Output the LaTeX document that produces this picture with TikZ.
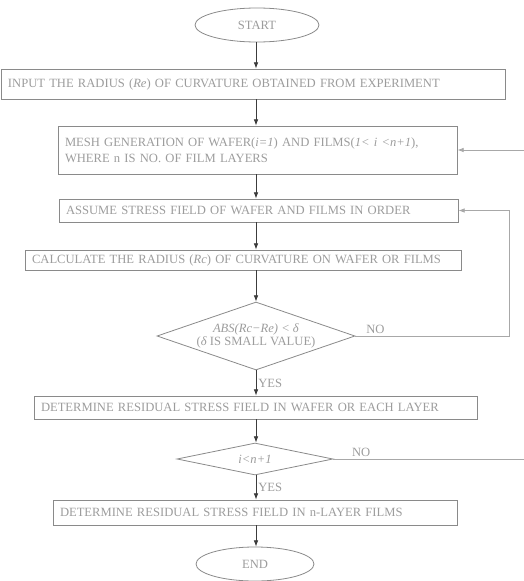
\documentclass[tikz,border=0pt]{standalone}
\usepackage{fontspec}
\setmainfont{Liberation Serif}
\usepackage{tikz}
\usetikzlibrary{arrows.meta,positioning,shapes.geometric}
\definecolor{FlowLine}{HTML}{8A8A8A}
\definecolor{FlowText}{HTML}{9C9C9C}
\definecolor{FlowArrow}{HTML}{3C3C3C}
\definecolor{FlowBack}{HTML}{A8A8A8}

\begin{document}
\begin{tikzpicture}[
  x=1pt, y=-1pt,
  block/.style={rectangle, draw=FlowLine, line width=0.8pt, inner xsep=7pt, inner ysep=0pt,
    align=left, text=FlowText, font=\fontsize{12.6}{16}\selectfont},
  terminal/.style={ellipse, draw=FlowLine, line width=0.8pt, inner sep=0pt,
    text=FlowText, font=\fontsize{12.6}{16}\selectfont},
  decision/.style={diamond, draw=FlowLine, line width=0.8pt, inner sep=0pt,
    text=FlowText, font=\fontsize{12.6}{16}\selectfont},
  lbl/.style={text=FlowText, font=\fontsize{12.6}{15}\selectfont, inner sep=2pt},
  arrow/.style={-{Latex[length=2.2mm,width=1.6mm]}, FlowArrow, line width=0.7pt},
  backarrow/.style={-{Latex[length=2.2mm,width=1.6mm]}, FlowBack, line width=0.8pt}
]
\useasboundingbox (0,0) rectangle (524,581);
\clip (0,0) rectangle (524,581);

\coordinate (spine) at (256,0);
\coordinate (inner) at (509,0);
\coordinate (outer) at (532,0);

\node (n0) [terminal, minimum width=124pt, minimum height=34pt] at (257,25) {START};
\node (n1) [block, text width=490pt, minimum height=30pt] at (253,84)
  {INPUT THE RADIUS (\textit{Re}) OF CURVATURE OBTAINED FROM EXPERIMENT};
\node (n2) [block, text width=385pt, minimum height=48pt] at (257.5,150)
  {MESH GENERATION OF WAFER(\textit{i=1}) AND FILMS(\textit{1< i <n+1}),\\WHERE n IS NO. OF FILM LAYERS};
\node (n3) [block, text width=385pt, minimum height=23pt] at (258.5,210.5)
  {ASSUME STRESS FIELD OF WAFER AND FILMS IN ORDER};
\node (n4) [block, text width=422pt, minimum height=20pt] at (243,260)
  {CALCULATE THE RADIUS (\textit{Rc}) OF CURVATURE ON WAFER OR FILMS};
\node (d1) [decision, minimum width=198pt, minimum height=68pt] at (256,336)
  {\makebox[0pt]{\begin{tabular}{@{}c@{}}\textit{ABS(Rc−Re) < δ}\\[-3pt](\textit{δ} IS SMALL VALUE)\end{tabular}}};
\node (n5) [block, text width=429pt, minimum height=23pt] at (255.5,407.5)
  {DETERMINE RESIDUAL STRESS FIELD IN WAFER OR EACH LAYER};
\node (d2) [decision, minimum width=156pt, minimum height=32pt] at (255,459)
  {\makebox[0pt]{\textit{i<n+1}}};
\node (n6) [block, text width=390pt, minimum height=25pt] at (255,512.5)
  {DETERMINE RESIDUAL STRESS FIELD IN n-LAYER FILMS};
\node (n7) [terminal, minimum width=118pt, minimum height=34pt] at (255,564) {END};

\draw[arrow] (n0.south -| spine) -- (n1.north -| spine);
\draw[arrow] (n1.south -| spine) -- (n2.north -| spine);
\draw[arrow] (n2.south -| spine) -- (n3.north -| spine);
\draw[arrow] (n3.south -| spine) -- (n4.north -| spine);
\draw[arrow] (n4.south -| spine) -- (d1.north -| spine);
\draw[arrow] (d1.south -| spine) -- node[right, lbl] {YES} (n5.north -| spine);
\draw[arrow] (n5.south -| spine) -- (d2.north -| spine);
\draw[arrow] (d2.south -| spine) -- node[right, lbl] {YES} (n6.north -| spine);
\draw[arrow] (n6.south -| spine) -- (n7.north -| spine);

\draw[backarrow] (d1.east) -- node[pos=0.13, above, lbl] {NO} (d1.east -| inner) |- (n3.east);
\draw[backarrow] (d2.east) -- node[pos=0.14, above, lbl] {NO} (d2.east -| outer) |- (n2.east);
\end{tikzpicture}
\end{document}
